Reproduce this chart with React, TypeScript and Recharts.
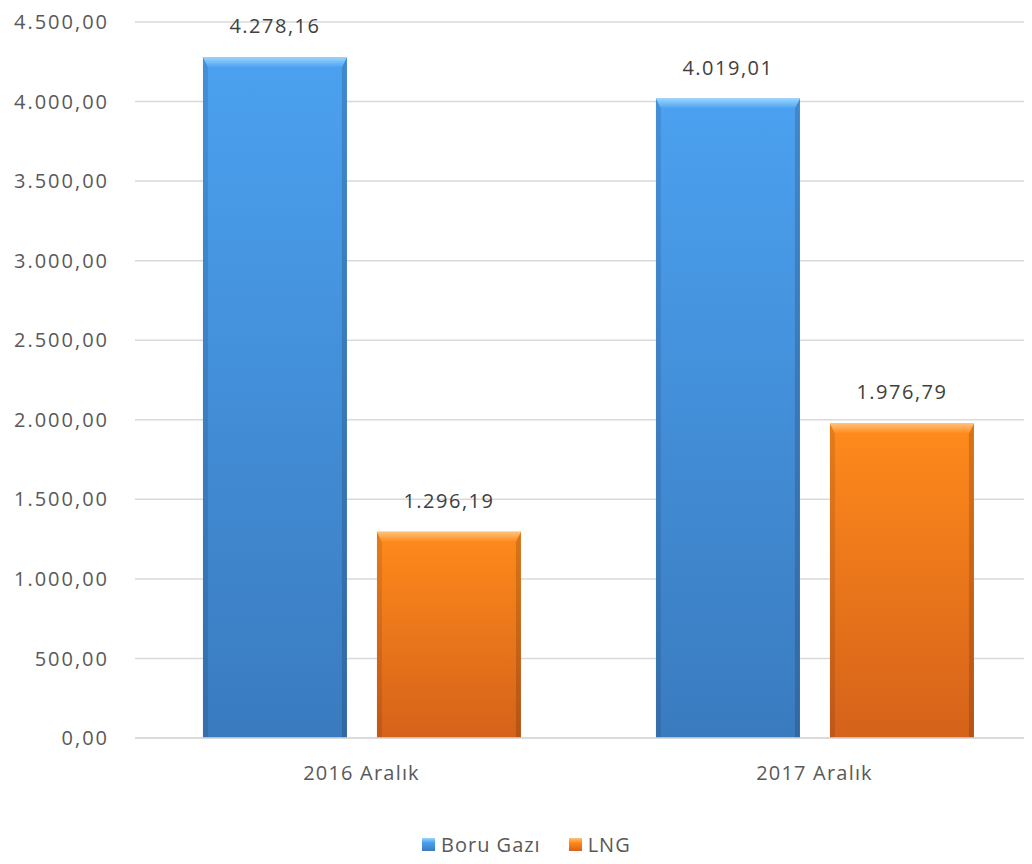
import React from "react";
import {
  BarChart,
  Bar,
  XAxis,
  YAxis,
  CartesianGrid,
  Legend,
  LabelList,
} from "recharts";

const categories = ["2016 Aralık", "2017 Aralık"];
const boruGazi = [4278.16, 4019.01];
const lng = [1296.19, 1976.79];
const yTicks = [0, 500, 1000, 1500, 2000, 2500, 3000, 3500, 4000, 4500];

const data = categories.map((name, i) => ({
  name,
  boru: boruGazi[i],
  lng: lng[i],
}));

const FONT = "'Open Sans', 'Noto Sans', sans-serif";

// 1234.5 -> "1.234,50"
const trFormat = (v: number) => {
  const [int, dec] = v.toFixed(2).split(".");
  const withDots = int.replace(/\B(?=(\d{3})+(?!\d))/g, ".");
  return `${withDots},${dec}`;
};

const palettes: Record<string, { top: string; bottom: string; bevel: string }> = {
  boru: { top: "#4ba1f0", bottom: "#3a7bbf", bevel: "#9ad6ff" },
  lng: { top: "#ff8a1c", bottom: "#d5621a", bevel: "#ffc27a" },
};

const BevelBar = (props: any) => {
  const { x, y, width, height, dataKey } = props;
  if (!height || height <= 0) return null;
  const b = 10;
  const side = 5;
  return (
    <g>
      <rect x={x} y={y} width={width} height={height} fill={`url(#grad-${dataKey})`} />
      <polygon
        points={`${x},${y} ${x + side},${y + b} ${x + side},${y + height} ${x},${y + height}`}
        fill="#000"
        fillOpacity={0.1}
      />
      <polygon
        points={`${x + width},${y} ${x + width - side},${y + b} ${x + width - side},${y + height} ${x + width},${y + height}`}
        fill="#000"
        fillOpacity={0.15}
      />
      <polygon
        points={`${x},${y} ${x + width},${y} ${x + width - side},${y + b} ${x + side},${y + b}`}
        fill={`url(#bevel-${dataKey})`}
      />
    </g>
  );
};

const LegendContent = (props: any) => {
  const { payload } = props;
  return (
    <div
      style={{
        display: "flex",
        gap: 28,
        fontFamily: FONT,
        fontSize: 20,
        letterSpacing: 1,
        color: "#595959",
      }}
    >
      {(payload || []).map((p: any) => {
        const pal = palettes[p.dataKey];
        return (
          <div key={p.dataKey} style={{ display: "flex", alignItems: "center", gap: 6 }}>
            <div
              style={{
                width: 13,
                height: 13,
                background: `linear-gradient(${pal.bevel}, ${pal.top} 35%, ${pal.bottom})`,
              }}
            />
            <span>{p.value}</span>
          </div>
        );
      })}
    </div>
  );
};

export default function App() {
  return (
    <div style={{ margin: -8, width: 1032, height: 864, overflow: "hidden", background: "#fff" }}>
      <BarChart
        width={1045}
        height={864}
        data={data}
        margin={{ top: 22, right: 4, left: 0, bottom: 0 }}
        barCategoryGap="15%"
        barGap={30}
      >
        <defs>
          {Object.entries(palettes).map(([k, p]) => (
            <React.Fragment key={k}>
              <linearGradient id={`grad-${k}`} x1="0" y1="0" x2="0" y2="1">
                <stop offset="0%" stopColor={p.top} />
                <stop offset="100%" stopColor={p.bottom} />
              </linearGradient>
              <linearGradient id={`bevel-${k}`} x1="0" y1="0" x2="0" y2="1">
                <stop offset="0%" stopColor={p.bevel} />
                <stop offset="100%" stopColor={p.top} />
              </linearGradient>
            </React.Fragment>
          ))}
        </defs>
        <CartesianGrid vertical={false} stroke="#d9d9d9" strokeWidth={1.5} />
        <XAxis
          dataKey="name"
          axisLine={{ stroke: "#d9d9d9", strokeWidth: 1.5 }}
          tickLine={false}
          tickMargin={22}
          height={86}
          tick={{ fill: "#595959", fontSize: 20, fontFamily: FONT, letterSpacing: 1.2 }}
        />
        <YAxis
          width={135}
          domain={[0, 4500]}
          ticks={yTicks}
          interval={0}
          axisLine={false}
          tickLine={false}
          tickMargin={20}
          tickFormatter={trFormat}
          tick={{ fill: "#595959", fontSize: 20, fontFamily: FONT, letterSpacing: 2 }}
        />
        <Legend
          verticalAlign="bottom"
          height={40}
          content={<LegendContent />}
          wrapperStyle={{ left: 422, width: 280, top: 831 }}
        />
        <Bar dataKey="boru" name="Boru Gazı" fill="#4ba1f0" shape={<BevelBar />} isAnimationActive={false}>
          <LabelList
            dataKey="boru"
            position="top"
            offset={24}
            formatter={(v: any) => trFormat(Number(v))}
            style={{ fill: "#404040", fontSize: 20, fontFamily: FONT, letterSpacing: 1.5 }}
          />
        </Bar>
        <Bar dataKey="lng" name="LNG" fill="#ff8a1c" shape={<BevelBar />} isAnimationActive={false}>
          <LabelList
            dataKey="lng"
            position="top"
            offset={24}
            formatter={(v: any) => trFormat(Number(v))}
            style={{ fill: "#404040", fontSize: 20, fontFamily: FONT, letterSpacing: 1.5 }}
          />
        </Bar>
      </BarChart>
    </div>
  );
}
